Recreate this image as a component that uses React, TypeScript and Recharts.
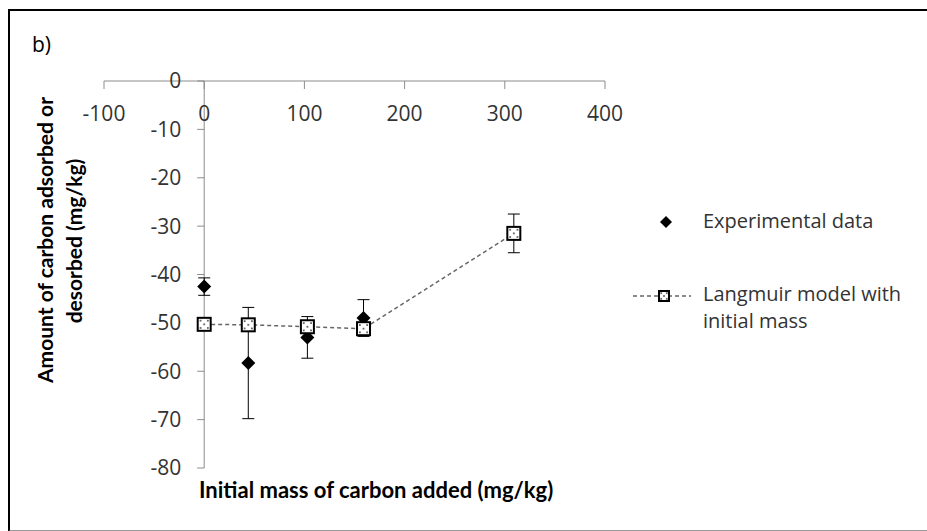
import React from "react";
import {
  ComposedChart,
  Scatter,
  XAxis,
  YAxis,
  ErrorBar,
  ReferenceLine,
} from "recharts";

// initial carbon added (mg/kg) and the adsorbed/desorbed amounts (mg/kg)
const carbonAdded = [0, 44, 103, 159, 309];
const experimental = [-42.5, -58.3, -53.0, -49.0, -31.5];
const experimentalError = [1.8, 11.5, 4.3, 3.8, 4.0];
const langmuir = [-50.3, -50.4, -50.8, -51.2, -31.5];

const xTicks = [-100, 0, 100, 200, 300, 400];
const yTicks = [0, -10, -20, -30, -40, -50, -60, -70, -80];

const legendLines = [["Experimental data"], ["Langmuir model with", "initial mass"]];

const expData = carbonAdded.map((x, i) => ({
  x,
  y: experimental[i],
  err: experimentalError[i],
}));
const modelData = carbonAdded.map((x, i) => ({ x, y: langmuir[i] }));

const FONT = "'Open Sans', sans-serif";
const TITLE_FONT = "Lato, sans-serif";
const AXIS = "#8c8c8c";
const TEXT = "#333";

const Diamond = (props: any) => {
  const { cx, cy } = props;
  const r = 7;
  return (
    <polygon
      points={`${cx},${cy - r} ${cx + r},${cy} ${cx},${cy + r} ${cx - r},${cy}`}
      fill="#000"
    />
  );
};

const dotted = (cx: number, cy: number, s: number) => {
  const d = s * 0.28;
  return [
    [-d, -d],
    [d, -d],
    [0, 0],
    [-d, d],
    [d, d],
  ].map(([dx, dy], i) => (
    <rect key={i} x={cx + dx - 0.9} y={cy + dy - 0.9} width={1.8} height={1.8} fill="#666" />
  ));
};

const Square = (props: any) => {
  const { cx, cy } = props;
  const s = 13;
  return (
    <g>
      <rect x={cx - s / 2} y={cy - s / 2} width={s} height={s} fill="#fff" stroke="#000" strokeWidth={2} />
      {dotted(cx, cy, s)}
    </g>
  );
};

// x ticks hang below the top axis line, labels underneath
const XTick = (props: any) => {
  const { x, y, payload } = props;
  return (
    <g>
      <line x1={x} y1={y} x2={x} y2={y + 8} stroke={AXIS} />
      <text x={x} y={y + 40} textAnchor="middle" fill={TEXT} fontSize={21}>
        {payload.value}
      </text>
    </g>
  );
};

export default function App() {
  return (
    <div
      style={{
        position: "fixed",
        left: 0,
        top: 0,
        width: 927,
        height: 531,
        overflow: "hidden",
        background: "#fff",
        fontFamily: FONT,
      }}
    >
      <div
        style={{
          position: "absolute",
          left: 8,
          top: 9,
          width: 940,
          height: 519,
          borderLeft: "2px solid #000",
          borderTop: "2px solid #000",
          borderBottom: "2px solid #999",
        }}
      />
      <div style={{ position: "absolute", left: 0, top: 0 }}>
        <ComposedChart
          width={927}
          height={531}
          margin={{ top: 51, right: 322, bottom: 63, left: 104 }}
        >
          <XAxis
            type="number"
            dataKey="x"
            domain={[-100, 400]}
            ticks={xTicks}
            interval={0}
            orientation="top"
            height={30}
            axisLine={{ stroke: AXIS }}
            tickLine={false}
            tickSize={0}
            tickMargin={0}
            tick={<XTick />}
            allowDataOverflow
          />
          <YAxis type="number" dataKey="y" domain={[-80, 0]} hide allowDataOverflow />
          <ReferenceLine x={0} stroke={AXIS} />
          {yTicks.map((v) => (
            <ReferenceLine
              key={v}
              segment={[
                { x: -7, y: v },
                { x: 0, y: v },
              ]}
              stroke={AXIS}
              label={{ value: String(v), position: "left", offset: 16, fill: TEXT, fontSize: 21 }}
            />
          ))}
          <Scatter data={expData} shape={<Diamond />} isAnimationActive={false}>
            <ErrorBar dataKey="err" direction="y" width={6} stroke="#000" strokeWidth={1} />
          </Scatter>
          <Scatter
            data={modelData}
            shape={<Square />}
            line={{ stroke: "#666", strokeWidth: 1.5, strokeDasharray: "4 3" }}
            lineType="joint"
            isAnimationActive={false}
          />
        </ComposedChart>
      </div>
      <svg
        width={927}
        height={531}
        style={{ position: "absolute", left: 0, top: 0, pointerEvents: "none" }}
      >
        <text x={32} y={52} fontSize={21} fill="#000">
          b)
        </text>
        <g fontWeight="bold" fill="#000" fontFamily={TITLE_FONT}>
          <text transform="translate(53,240) rotate(-90)" textAnchor="middle" fontSize={21}>
            Amount of carbon adsorbed or
          </text>
          <text transform="translate(82,241) rotate(-90)" textAnchor="middle" fontSize={21}>
            desorbed (mg/kg)
          </text>
          <text x={199} y={498} fontSize={22}>
            Initial mass of carbon added (mg/kg)
          </text>
        </g>
        {/* legend */}
        <polygon points="666,216 672,222 666,228 660,222" fill="#000" />
        <text x={703} y={228} fontSize={20} fill={TEXT}>
          {legendLines[0][0]}
        </text>
        <line x1={633} y1={296} x2={691} y2={296} stroke="#666" strokeWidth={1.5} strokeDasharray="4 3" />
        <rect x={659} y={291} width={10} height={10} fill="#fff" stroke="#000" strokeWidth={2} />
        {dotted(664, 296, 10)}
        <text x={703} y={301} fontSize={20} fill={TEXT}>
          {legendLines[1][0]}
        </text>
        <text x={703} y={328} fontSize={20} fill={TEXT}>
          {legendLines[1][1]}
        </text>
      </svg>
    </div>
  );
}
